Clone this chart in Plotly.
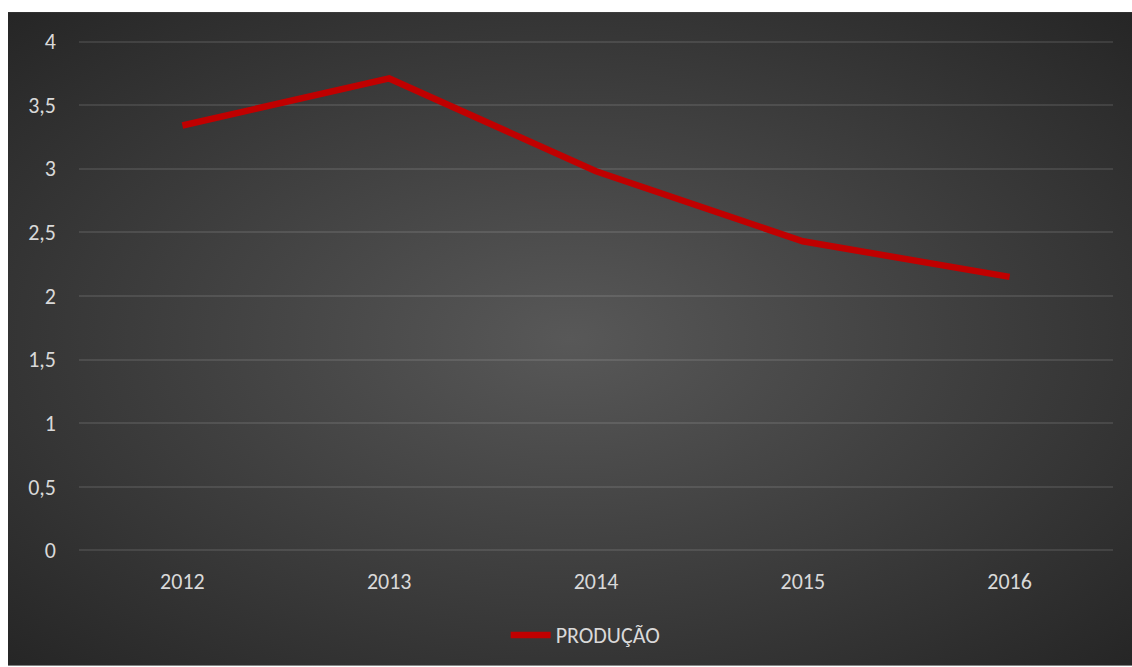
import base64
import plotly.graph_objects as go

years = ["2012", "2013", "2014", "2015", "2016"]
producao = [3.34, 3.71, 2.98, 2.43, 2.15]
y_ticks = [0, 0.5, 1, 1.5, 2, 2.5, 3, 3.5, 4]
y_labels = ["0", "0,5", "1", "1,5", "2", "2,5", "3", "3,5", "4"]

W, H = 1132, 667
ml, mr, mt, mb = 79, 19, 40, 114
pw, ph = W - ml - mr, H - mt - mb

svg = f'''<svg xmlns="http://www.w3.org/2000/svg" width="1124" height="655" viewBox="0 0 1124 655" preserveAspectRatio="none">
<defs><radialGradient id="g" cx="50%" cy="50%" r="70%" gradientUnits="objectBoundingBox">
<stop offset="0%" stop-color="#585858"/><stop offset="100%" stop-color="#262626"/></radialGradient></defs>
<rect width="1124" height="655" fill="url(#g)"/></svg>'''
src = "data:image/svg+xml;base64," + base64.b64encode(svg.encode()).decode()

fig = go.Figure()
fig.add_trace(go.Scatter(
    x=years, y=producao, mode="lines", name="PRODUÇÃO",
    line=dict(color="#c00000", width=6.5),
))

font = dict(family="Carlito, Open Sans, sans-serif", size=22, color="#d9d9d9")
fig.update_layout(
    width=W, height=H,
    margin=dict(l=ml, r=mr, t=mt, b=mb, pad=0),
    paper_bgcolor="white",
    plot_bgcolor="rgba(0,0,0,0)",
    font=font,
    showlegend=True,
    legend=dict(orientation="h", x=0.49, xanchor="center", y=-0.16, yanchor="middle",
                font=font, bgcolor="rgba(0,0,0,0)", itemwidth=40),
    images=[dict(source=src, xref="paper", yref="paper",
                 x=(8 - ml) / pw, y=1 + (mt - 12) / ph,
                 sizex=(W - 8) / pw, sizey=(H - 12) / ph,
                 xanchor="left", yanchor="top", sizing="stretch", layer="below")],
    xaxis=dict(type="category", range=[-0.5, 4.5], showgrid=False, zeroline=False,
               showline=False, ticks="", tickfont=font),
    yaxis=dict(range=[-0.012, 4.012], tickvals=y_ticks, ticktext=y_labels, showgrid=True,
               gridcolor="rgba(255,255,255,0.10)", gridwidth=1.5, zeroline=False,
               showline=False, ticks="", tickfont=font),
)
fig.update_yaxes(ticklabelstandoff=22)
fig.update_xaxes(ticklabelstandoff=14)
fig.write_html("out.html")
